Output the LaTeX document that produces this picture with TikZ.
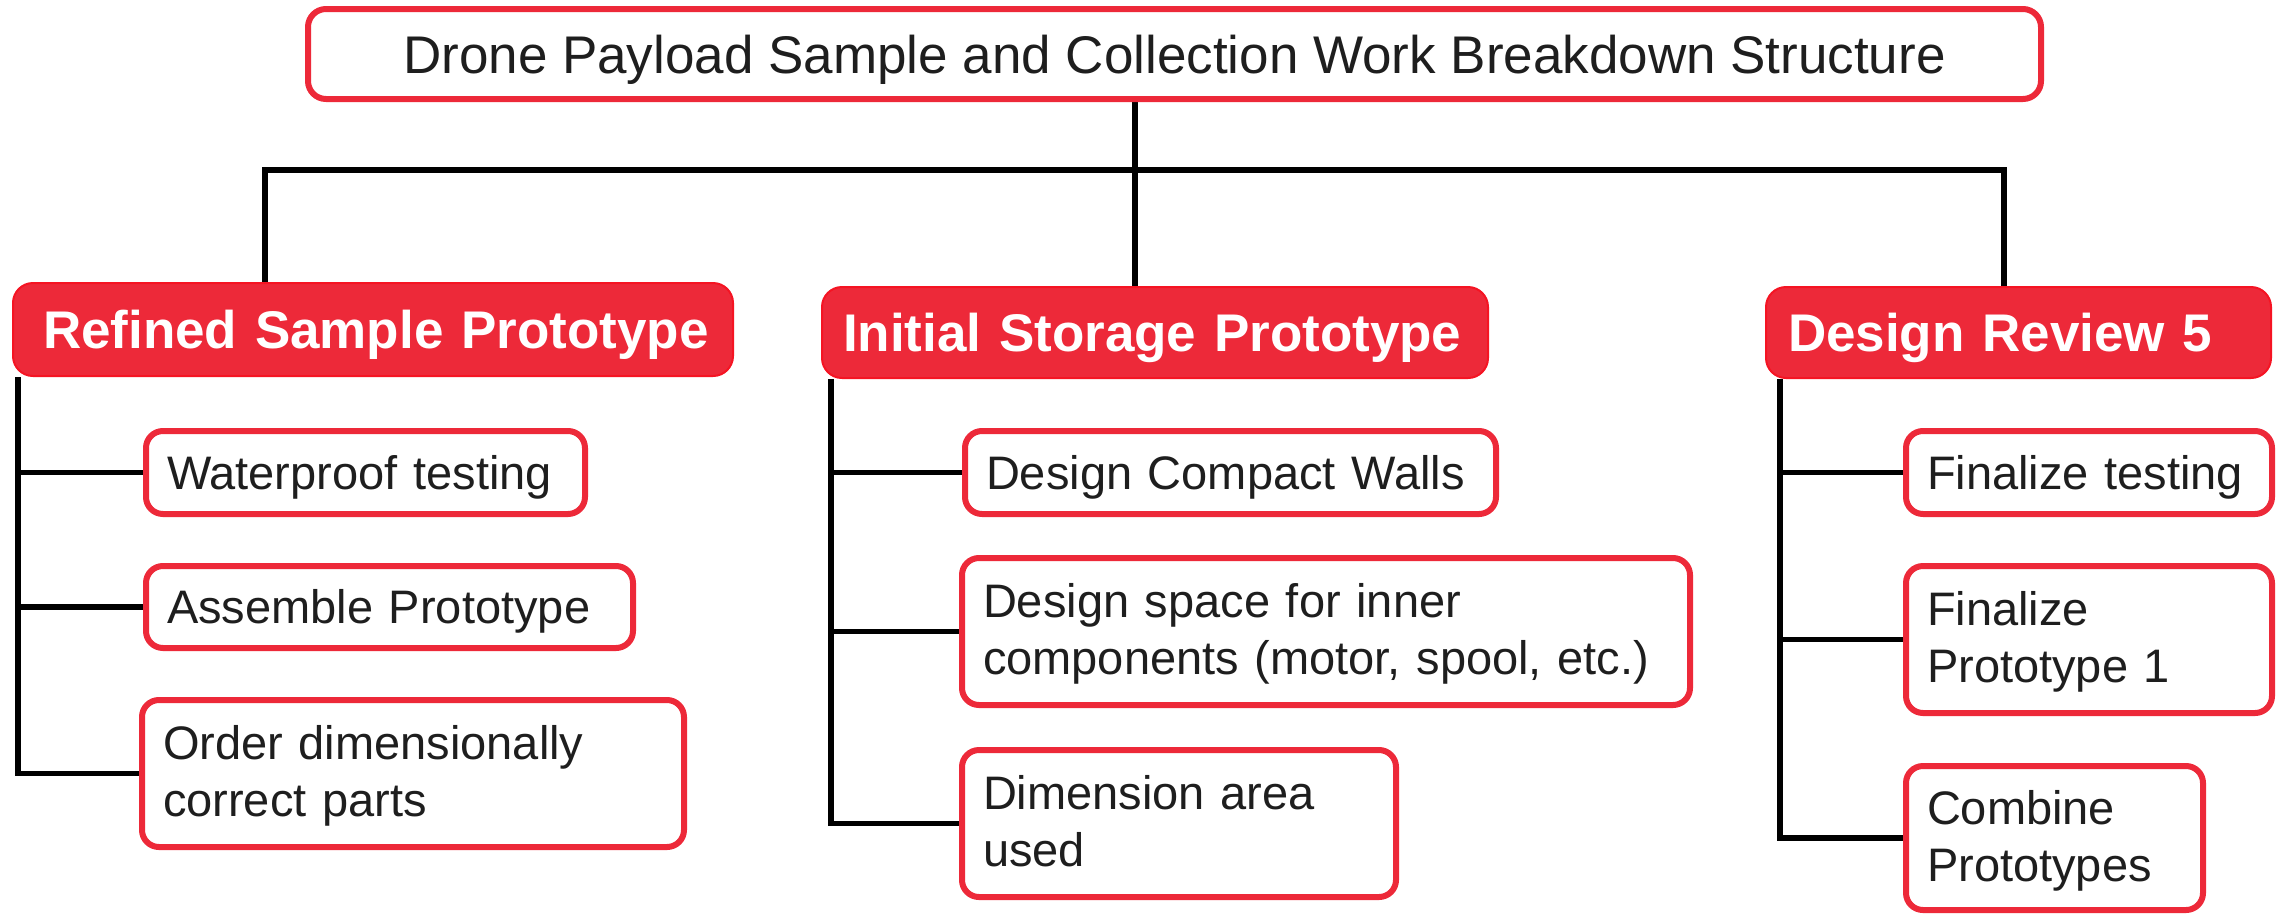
\documentclass[tikz,border=0pt]{standalone}
\usepackage{fontspec}
\setmainfont{Liberation Sans}
\usetikzlibrary{backgrounds}
\definecolor{wbsred}{RGB}{237,41,57}
\definecolor{wbsedge}{RGB}{245,20,35}
\definecolor{txt}{RGB}{30,30,30}
\begin{document}
\begin{tikzpicture}[x=1pt,y=-1pt,
  item/.style={draw=wbsred, line width=6pt, rounded corners=17pt, fill=white, anchor=west,
    align=left, inner xsep=21pt, inner ysep=0pt, text=txt, font=\fontsize{47}{57}\selectfont,
    text height=33.7pt, text depth=0pt},
  two/.style={text depth=61pt},
  head/.style={draw=wbsedge, line width=2pt, fill=wbsred, rounded corners=20pt, anchor=west,
    align=left, inner ysep=0pt, text=white, font=\fontsize{53}{64}\bfseries\selectfont,
    text height=38pt, text depth=0pt},
  titlebox/.style={draw=wbsred, line width=6pt, rounded corners=18pt, fill=white,
    inner sep=0pt, text=txt, font=\fontsize{53}{64}\selectfont,
    text height=38pt, text depth=0pt},
  conn/.style={draw=black, line width=5.5pt, line join=miter}]
\useasboundingbox (0,0) rectangle (2279,914);

% title
\node[titlebox, minimum width=1733pt, minimum height=90pt] (T) at (1174.5,54)
  {Drone Payload Sample and Collection Work Breakdown Structure};

% headers
\node[head, minimum height=93pt, inner xsep=30pt, text width=660pt] (R1) at (12,329.5)
  {\mbox{Refined Sample Prototype}};
\node[head, minimum height=91pt, inner xsep=21pt, text width=624pt] (R2) at (821,332.5)
  {\mbox{Initial Storage Prototype}};
\node[head, minimum height=91pt, inner xsep=22pt, text width=461pt] (R3) at (1765,332.5)
  {\mbox{Design Review 5}};

% column 1
\node[item, minimum height=83pt, text width=397pt] (A1) at (143,472.5) {\mbox{Waterproof testing}};
\node[item, minimum height=82pt, text width=445pt] (A2) at (143,607) {\mbox{Assemble Prototype}};
\node[item, two, minimum height=147pt, text width=500pt] (A3) at (139,773.5)
  {\mbox{Order dimensionally}\\\mbox{correct parts}};

% column 2
\node[item, minimum height=83pt, text width=489pt] (B1) at (962,472.5) {\mbox{Design Compact Walls}};
\node[item, two, minimum height=147pt, text width=686pt] (B2) at (959,631.5)
  {\mbox{Design space for inner}\\\mbox{components (motor, spool, etc.)}};
\node[item, two, minimum height=147pt, text width=392pt] (B3) at (959,823.5)
  {\mbox{Dimension area}\\\mbox{used}};

% column 3
\node[item, minimum height=83pt, text width=324pt] (C1) at (1903,472.5) {\mbox{Finalize testing}};
\node[item, two, minimum height=147pt, text width=324pt] (C2) at (1903,639.5)
  {\mbox{Finalize}\\\mbox{Prototype 1}};
\node[item, two, minimum height=144pt, text width=255pt] (C3) at (1903,838)
  {\mbox{Combine}\\\mbox{Prototypes}};

\coordinate (hub) at (1135,170);
\coordinate (b1) at (265,0);
\coordinate (b3) at (2004,0);
\coordinate (s1) at (18,0);
\coordinate (s2) at (831,0);
\coordinate (s3) at (1780,0);

\begin{scope}[on background layer]
  \draw[conn] (T.south -| hub) -- (R2.north -| hub);
  \draw[conn] (R1.north -| b1) |- (hub) -| (R3.north -| b3);
  \draw[conn] (R1.south -| s1) |- (A3.west);
  \draw[conn] (A1.west -| s1) -- (A1.west);
  \draw[conn] (A2.west -| s1) -- (A2.west);
  \draw[conn] (R2.south -| s2) |- (B3.west);
  \draw[conn] (B1.west -| s2) -- (B1.west);
  \draw[conn] (B2.west -| s2) -- (B2.west);
  \draw[conn] (R3.south -| s3) |- (C3.west);
  \draw[conn] (C1.west -| s3) -- (C1.west);
  \draw[conn] (C2.west -| s3) -- (C2.west);
\end{scope}
\end{tikzpicture}
\end{document}
